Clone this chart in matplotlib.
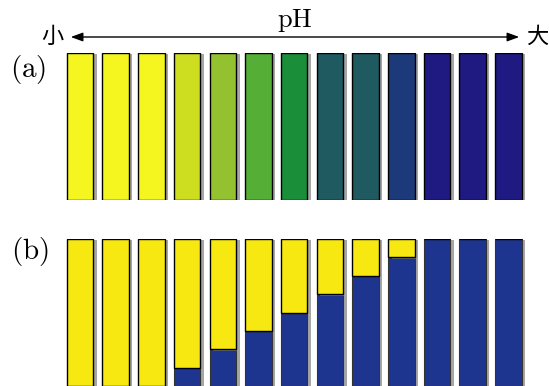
import matplotlib
matplotlib.use('Agg')
import matplotlib.pyplot as plt
import matplotlib.patheffects as pe
import numpy as np

# colours of the indicator in panel (a), low pH -> high pH
colors_a = ['#f5f520', '#f5f520', '#f5f520', '#cddd20', '#93c130',
            '#55ae35', '#1a8e38', '#1f5a60', '#1f5a60', '#1c3a7a',
            '#1e1a82', '#1e1a82', '#1e1a82']
# fraction of the tube that is blue in panel (b)
blue_frac = [0.0, 0.0, 0.0, 0.125, 0.25, 0.375, 0.5, 0.625, 0.75, 0.875,
             1.0, 1.0, 1.0]
yellow_b = '#f7e812'
blue_b = '#1e3590'

plt.rcParams['mathtext.fontset'] = 'cm'

W, H = 549, 386
fig = plt.figure(figsize=(W / 100, H / 100), dpi=100)

n = len(colors_a)
x = np.arange(n)
pitch = 35.7
x0 = 80.0
xlim = (-x0 / pitch, (W - x0) / pitch)
width = 26.5 / pitch

shadow = [pe.SimplePatchShadow(offset=(2.5, -1), shadow_rgbFace='#808080',
                               alpha=0.7), pe.Normal()]


def make_ax(top, bottom):
    ax = fig.add_axes([0, 1 - bottom / H, 1, (bottom - top) / H])
    ax.set_xlim(*xlim)
    ax.set_ylim(0, 1)
    ax.axis('off')
    return ax


ax_a = make_ax(53, 200)
bars = ax_a.bar(x, 1.0, width=width, bottom=0, color=colors_a,
                edgecolor='black', linewidth=1.0)
for b in bars:
    b.set_path_effects(shadow)

ax_b = make_ax(239, 386)
blue = np.array(blue_frac)
bb = ax_b.bar(x, blue, width=width, color=blue_b, edgecolor='#333333',
              linewidth=0.8)
by = ax_b.bar(x, 1 - blue, bottom=blue, width=width, color=yellow_b,
              edgecolor='black', linewidth=1.0)
for b in list(bb) + list(by):
    b.set_path_effects(shadow)

# pH arrow on top
fig.add_artist(matplotlib.patches.FancyArrowPatch(
    (68 / W, 1 - 37 / H), (522 / W, 1 - 37 / H), transform=fig.transFigure,
    arrowstyle='<|-|>,head_length=0.6,head_width=0.22', color='black',
    linewidth=1.0, mutation_scale=12))
fig.text(295 / W, 1 - 20 / H, r'$\mathrm{pH}$', fontsize=19,
         ha='center', va='center')
cjk = ['Noto Sans CJK SC', 'DejaVu Sans']
fig.text(52 / W, 1 - 36 / H, '小', fontsize=16, family=cjk,
         ha='center', va='center')
fig.text(537 / W, 1 - 36 / H, '大', fontsize=16, family=cjk,
         ha='center', va='center')
fig.text(28 / W, 1 - 69 / H, r'$\mathrm{(a)}$', fontsize=21,
         ha='center', va='center')
fig.text(30 / W, 1 - 252 / H, r'$\mathrm{(b)}$', fontsize=21,
         ha='center', va='center')

fig.savefig('out.png', dpi=100)
